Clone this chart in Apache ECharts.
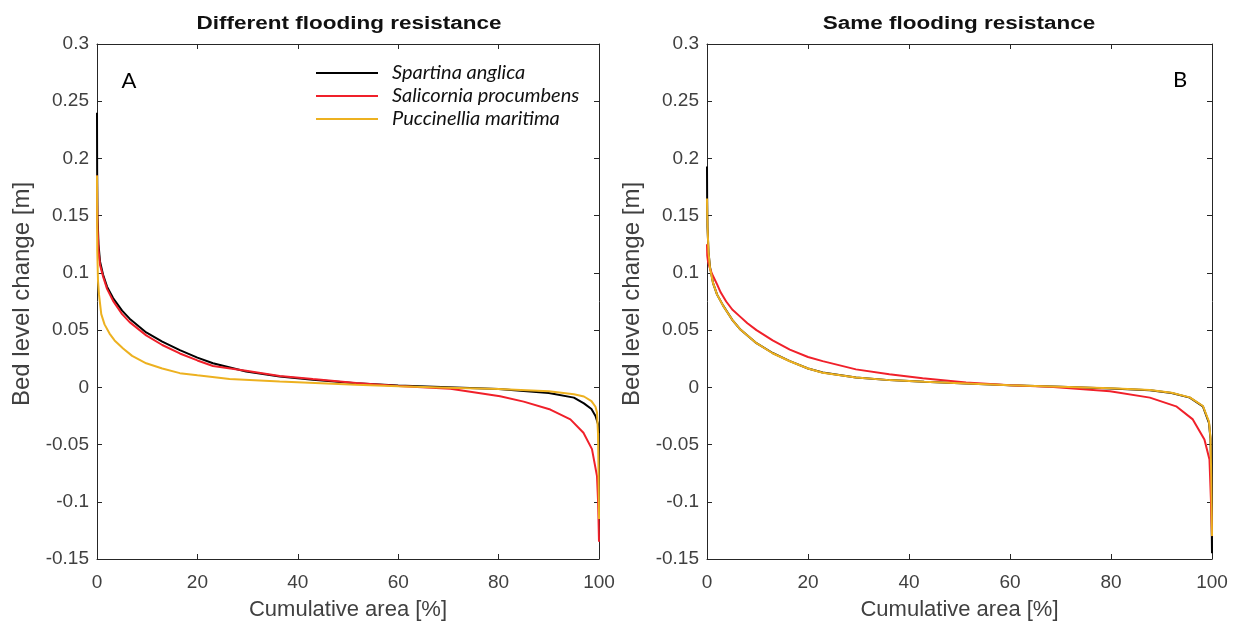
<!DOCTYPE html>
<html>
<head>
<meta charset="utf-8">
<script src="https://cdn.jsdelivr.net/npm/echarts@6/dist/echarts.min.js"></script>
<style>
html,body{margin:0;padding:0;background:#fff;}
#chart{width:1239px;height:625px;}
</style>
</head>
<body>
<div id="chart"></div>
<script>
// ---- Data ----
const seriesNames = ['Spartina anglica', 'Salicornia procumbens', 'Puccinellia maritima'];
const xTicks = [0, 20, 40, 60, 80, 100];
const yTicks = [-0.15, -0.1, -0.05, 0, 0.05, 0.1, 0.15, 0.2, 0.25, 0.3];

// Panel A: Different flooding resistance
const aBlackX = [0, 0.03, 0.1, 0.3, 0.6, 1.2, 2, 3.2, 5, 6.5, 9.8, 13, 16.5, 20, 23.1, 29.7, 36.4, 43, 51.6, 60, 70, 80, 90, 95, 97, 98.5, 99.3, 99.8, 100];
const aBlackY = [0.24, 0.19, 0.15, 0.125, 0.11, 0.0986, 0.088, 0.078, 0.067, 0.06, 0.048, 0.04, 0.0325, 0.026, 0.021, 0.0138, 0.0095, 0.0066, 0.0035, 0.0015, 0.0, -0.0015, -0.005, -0.009, -0.014, -0.019, -0.025, -0.032, -0.04];

const aRedX = [0, 0.03, 0.1, 0.3, 0.6, 1.2, 2, 3.2, 5, 6.5, 9.8, 13, 16.5, 20, 23.1, 29.7, 36.4, 43, 51.6, 60, 70.4, 80.3, 85, 90.3, 94.3, 96.9, 98.6, 99.6, 99.8, 99.9, 100];
const aRedY = [0.185, 0.16, 0.14, 0.12, 0.107, 0.097, 0.086, 0.0756, 0.064, 0.057, 0.0454, 0.037, 0.0296, 0.0235, 0.0187, 0.0144, 0.010, 0.0072, 0.0037, 0.0012, -0.0013, -0.0078, -0.0125, -0.0194, -0.028, -0.0397, -0.054, -0.0776, -0.098, -0.115, -0.135];

const aOrangeX = [0, 0.05, 0.2, 0.4, 0.85, 1.5, 2.5, 3.5, 5.2, 7, 9.8, 13, 16.5, 20, 26.4, 36.4, 51.6, 60, 70, 80, 90, 95, 97, 98.5, 99.3, 99.6, 99.8, 99.9, 100];
const aOrangeY = [0.185, 0.12, 0.093, 0.081, 0.064, 0.055, 0.047, 0.041, 0.034, 0.0275, 0.021, 0.0165, 0.0124, 0.0105, 0.0072, 0.0052, 0.0023, 0.001, -0.0003, -0.0015, -0.0034, -0.006, -0.008, -0.012, -0.017, -0.022, -0.04, -0.07, -0.115];

// Panel B: Same flooding resistance
const bBlackX = [0, 0.03, 0.1, 0.3, 0.6, 1.2, 2, 3.2, 5, 6.5, 9.8, 13, 16.4, 20, 22.9, 29.5, 36.1, 43, 51.3, 60, 70, 80, 87.7, 92, 95.6, 98.2, 99.4, 99.7, 99.85, 100];
const bBlackY = [0.193, 0.165, 0.14, 0.118, 0.105, 0.091, 0.081, 0.0714, 0.059, 0.051, 0.0386, 0.030, 0.0229, 0.0165, 0.0129, 0.0086, 0.0063, 0.0048, 0.0034, 0.0018, 0.0005, -0.001, -0.0025, -0.005, -0.009, -0.0166, -0.031, -0.045, -0.08, -0.145];

const bRedX = [0, 0.05, 0.2, 0.5, 1, 2, 2.7, 3.8, 5, 6.5, 8, 9.8, 13, 16.4, 20, 22.9, 29.5, 36.1, 42.7, 51.3, 60, 67.9, 79.8, 87.7, 92.9, 96.2, 98.5, 99.5, 99.8, 100];
const bRedY = [0.125, 0.115, 0.11, 0.105, 0.099, 0.09, 0.083, 0.075, 0.068, 0.062, 0.056, 0.05, 0.041, 0.0329, 0.0265, 0.0229, 0.0157, 0.0114, 0.008, 0.0043, 0.0018, 0.0004, -0.0034, -0.009, -0.0166, -0.028, -0.0455, -0.063, -0.1, -0.13];

const bOrangeX = [0, 0.05, 0.15, 0.3, 0.6, 1.2, 2, 3.2, 5, 6.5, 9.8, 13, 16.4, 20, 22.9, 29.5, 36.1, 43, 51.3, 60, 70, 80, 87.7, 92, 95.6, 98.2, 99.4, 99.7, 99.85, 100];
const bOrangeY = [0.165, 0.15, 0.135, 0.118, 0.104, 0.091, 0.081, 0.0712, 0.059, 0.051, 0.0386, 0.0298, 0.0228, 0.0165, 0.0128, 0.0086, 0.0063, 0.0048, 0.0034, 0.0018, 0.0006, -0.0008, -0.0023, -0.0048, -0.0088, -0.0163, -0.03, -0.044, -0.078, -0.13];

const colors = ['#000000', '#f0202a', '#edb120'];

// ---- Build ----
function pairs(xs, ys) { return xs.map((x, i) => [x, ys[i]]); }

const axisColor = '#262626';
const labelColor = '#404040';
const fontFam = '"Liberation Sans", Arial, sans-serif';

const grids = [
  { left: 97, top: 44, width: 502, height: 515, containLabel: false, outerBoundsMode: 'none' },
  { left: 707, top: 44, width: 505, height: 515, containLabel: false, outerBoundsMode: 'none' }
];

const xAxes = [];
const yAxes = [];
[0, 1].forEach(g => {
  xAxes.push({
    type: 'value', gridIndex: g, min: xTicks[0], max: xTicks[xTicks.length - 1], interval: 20,
    position: 'bottom',
    name: 'Cumulative area [%]', nameLocation: 'middle', nameGap: 40,
    nameTextStyle: { color: labelColor, fontSize: 22, fontFamily: fontFam },
    axisLine: { show: true, onZero: false, lineStyle: { color: axisColor, width: 1 } },
    axisTick: { show: true, inside: true, length: 5, lineStyle: { color: axisColor } },
    axisLabel: { color: labelColor, fontSize: 19, fontFamily: fontFam, margin: 14 },
    splitLine: { show: false }
  });
  xAxes.push({
    type: 'value', gridIndex: g, min: 0, max: 100, interval: 20, position: 'top',
    axisLine: { show: true, onZero: false, lineStyle: { color: axisColor, width: 1 } },
    axisTick: { show: true, inside: true, length: 5, lineStyle: { color: axisColor } },
    axisLabel: { show: false }, splitLine: { show: false }
  });
  yAxes.push({
    type: 'value', gridIndex: g, min: yTicks[0], max: yTicks[yTicks.length - 1], interval: 0.05,
    position: 'left',
    name: 'Bed level change [m]', nameLocation: 'middle', nameGap: 63,
    nameTextStyle: { color: labelColor, fontSize: 24, fontFamily: fontFam, padding: [0, 0, 0, 15] },
    axisLine: { show: true, onZero: false, lineStyle: { color: axisColor, width: 1 } },
    axisTick: { show: true, inside: true, length: 5, lineStyle: { color: axisColor } },
    axisLabel: { color: labelColor, fontSize: 19, fontFamily: fontFam, margin: 8,
      formatter: v => String(Math.round(v * 100) / 100) },
    splitLine: { show: false }
  });
  yAxes.push({
    type: 'value', gridIndex: g, min: -0.15, max: 0.3, interval: 0.05, position: 'right',
    axisLine: { show: true, onZero: false, lineStyle: { color: axisColor, width: 1 } },
    axisTick: { show: true, inside: true, length: 5, lineStyle: { color: axisColor } },
    axisLabel: { show: false }, splitLine: { show: false }
  });
});

function mkSeries(name, data, color, g, z) {
  return {
    name: name, type: 'line', data: data,
    xAxisIndex: g * 2, yAxisIndex: g * 2,
    showSymbol: false, symbol: 'none', smooth: false,
    lineStyle: { color: color, width: 2 },
    itemStyle: { color: color },
    z: z, animation: false
  };
}

const series = [
  mkSeries(seriesNames[0], pairs(aBlackX, aBlackY), colors[0], 0, 2),
  mkSeries(seriesNames[1], pairs(aRedX, aRedY), colors[1], 0, 3),
  mkSeries(seriesNames[2], pairs(aOrangeX, aOrangeY), colors[2], 0, 4),
  mkSeries(seriesNames[0], pairs(bBlackX, bBlackY), colors[0], 1, 2),
  mkSeries(seriesNames[1], pairs(bRedX, bRedY), colors[1], 1, 3),
  mkSeries(seriesNames[2], pairs(bOrangeX, bOrangeY), colors[2], 1, 4)
];

const chart = echarts.init(document.getElementById('chart'), null, { renderer: 'canvas' });
chart.setOption({
  animation: false,
  backgroundColor: '#ffffff',
  grid: grids,
  xAxis: xAxes,
  yAxis: yAxes,
  legend: {
    data: seriesNames,
    orient: 'vertical', left: 311, top: 58,
    itemWidth: 62, itemHeight: 14, itemGap: 3,
    icon: 'path://M0,6L62,6L62,8L0,8Z',
    textStyle: { fontFamily: 'Lato, "Open Sans", sans-serif', fontStyle: 'italic', fontSize: 20, color: '#111', padding: [0, 0, 0, 9] },
    selectedMode: false
  },
  graphic: [
    { type: 'text', x: 349, y: 24, scaleX: 1.25, style: { text: 'Different flooding resistance', font: 'bold 18px "Liberation Sans", Arial, sans-serif', fill: '#111', textAlign: 'center', textVerticalAlign: 'middle' } },
    { type: 'text', x: 959, y: 24, scaleX: 1.25, style: { text: 'Same flooding resistance', font: 'bold 18px "Liberation Sans", Arial, sans-serif', fill: '#111', textAlign: 'center', textVerticalAlign: 'middle' } },
    { type: 'text', x: 129, y: 81, style: { text: 'A', font: '22px Lato, "Open Sans", sans-serif', fill: '#000', textAlign: 'center', textVerticalAlign: 'middle' } },
    { type: 'text', x: 1180, y: 80, style: { text: 'B', font: '22px Lato, "Open Sans", sans-serif', fill: '#000', textAlign: 'center', textVerticalAlign: 'middle' } }
  ],
  series: series
});
</script>
</body>
</html>
